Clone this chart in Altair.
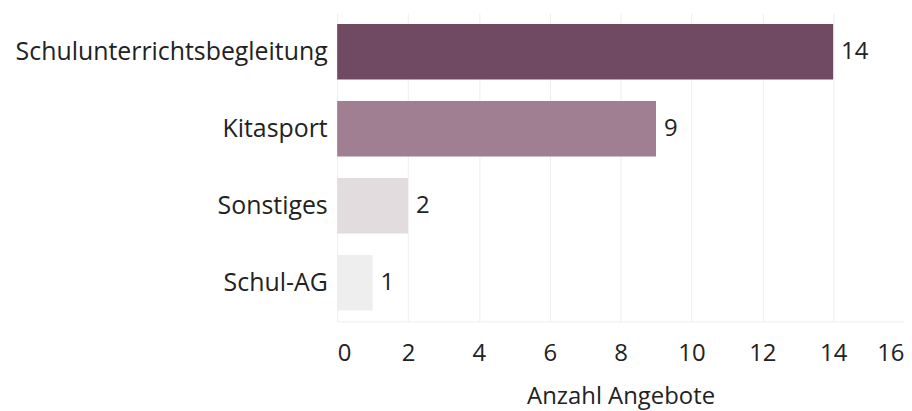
import altair as alt
import pandas as pd

categories = ["Schulunterrichtsbegleitung", "Kitasport", "Sonstiges", "Schul-AG"]
values = [14, 9, 2, 1]
colors = ["#704a62", "#a07f92", "#e3dcdf", "#eeeeee"]
x_ticks = [0, 2, 4, 6, 8, 10, 12, 14, 16]

df = pd.DataFrame({"Kategorie": categories, "Anzahl": values})

FONT = "Open Sans"
TXT = "#222222"

base = alt.Chart(df).encode(
    y=alt.Y("Kategorie:N", sort=categories, title=None,
            scale=alt.Scale(paddingInner=0.28, paddingOuter=0.14),
            axis=alt.Axis(labelFontSize=25, labelColor=TXT, labelFont=FONT,
                          labelLimit=0, ticks=False, domain=False,
                          labelPadding=10, grid=False)),
)

bars = base.mark_bar().encode(
    x=alt.X("Anzahl:Q", title="Anzahl Angebote",
            scale=alt.Scale(domain=[0, 16], nice=False),
            axis=alt.Axis(values=x_ticks, labelFontSize=24, labelColor=TXT,
                          labelFont=FONT, titleFont=FONT, titleFontSize=24,
                          titleFontWeight="normal", titleColor=TXT,
                          ticks=False, domain=True, domainColor="#eeeeee",
                          gridColor="#eeeeee", labelPadding=20, titlePadding=20,
                          labelFlush=True)),
    color=alt.Color("Kategorie:N", scale=alt.Scale(domain=categories, range=colors),
                    legend=None),
)

labels = base.mark_text(align="left", baseline="middle", dx=8, fontSize=24,
                        font=FONT, color=TXT).encode(
    x=alt.X("Anzahl:Q"),
    text=alt.Text("Anzahl:Q"),
)

chart = (bars + labels).properties(
    width=570, height=310,
    autosize=alt.AutoSizeParams(type="none"),
    padding={"left": 331, "top": 4, "right": 0, "bottom": 92},
).configure_view(stroke=None)

chart.save("out.html", embed_options={"renderer": "svg", "actions": False})
